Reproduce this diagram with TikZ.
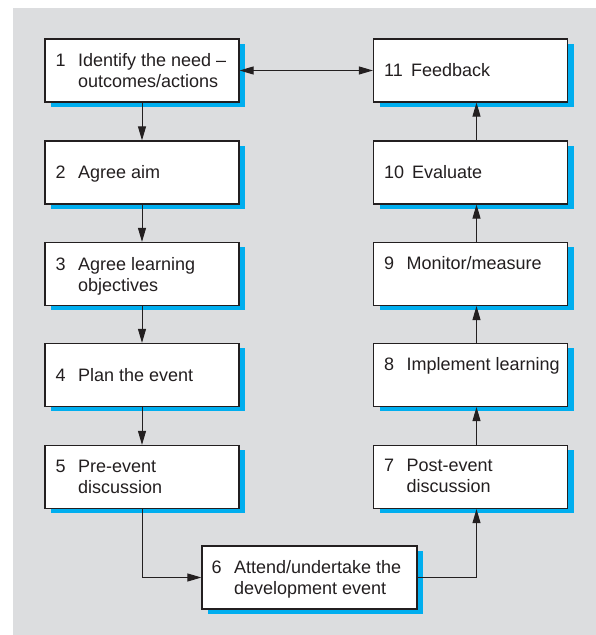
\documentclass[tikz,border=0pt]{standalone}
\usepackage{fontspec}
\setmainfont{Liberation Sans}
\usetikzlibrary{arrows.meta,shadows}

\definecolor{panel}{RGB}{220,221,223}
\definecolor{shade}{RGB}{0,174,239}
\definecolor{ink}{RGB}{35,31,32}

% number in a fixed-width column, wording beside it with a hanging indent
\newcommand\steptext[3]{\begin{tabular}[t]{@{}p{#1}@{}l@{}}#2&#3\end{tabular}}

\begin{document}
\begin{tikzpicture}[x=1pt,y=1pt,
  stepbox/.style={rectangle, draw=ink, line width=1.2pt, fill=white,
    minimum width=194pt, minimum height=63pt, inner sep=0pt,
    drop shadow={shadow xshift=6pt, shadow yshift=-5pt, fill=shade, opacity=1}},
  widebox/.style={stepbox, minimum width=215pt},
  steplabel/.style={anchor=base west, inner sep=0pt, text=ink,
    font=\fontsize{18}{21}\selectfont},
  tip/.tip={Triangle[length=14pt,width=8pt]},
  flow/.style={draw=ink, line width=1pt, -tip},
]
\useasboundingbox (0,0) rectangle (596,635);
\fill[panel] (13,0) rectangle (596,627);

% left column: steps 1 to 5
\node[stepbox] (b1) at (142,564.5) {};
\node[stepbox] (b2) at (142,462.5) {};
\node[stepbox] (b3) at (142,361) {};
\node[stepbox] (b4) at (142,260) {};
\node[stepbox] (b5) at (142,158) {};
% the event itself
\node[widebox] (b6) at (309.5,57.5) {};
% right column: steps 7 to 11
\node[stepbox] (b7) at (470.5,158) {};
\node[stepbox] (b8) at (470.5,260) {};
\node[stepbox] (b9) at (470.5,361) {};
\node[stepbox] (b10) at (470.5,462.5) {};
\node[stepbox] (b11) at (470.5,564.5) {};

% wording
\node[steplabel] (t1) at ([xshift=11pt,yshift=3.5pt]b1.west)
  {\steptext{22.5pt}{1}{Identify the need –\\&outcomes/actions}};
\node[steplabel] (t2) at ([xshift=11pt,yshift=-6.5pt]b2.west)
  {\steptext{22.5pt}{2}{Agree aim}};
\node[steplabel] (t3) at ([xshift=11pt,yshift=3.5pt]b3.west)
  {\steptext{22.5pt}{3}{Agree learning\\&objectives}};
\node[steplabel] (t4) at ([xshift=11pt,yshift=-6.5pt]b4.west)
  {\steptext{22.5pt}{4}{Plan the event}};
\node[steplabel] (t5) at ([xshift=11pt,yshift=4.5pt]b5.west)
  {\steptext{22.5pt}{5}{Pre-event\\&discussion}};
\node[steplabel] (t6) at ([xshift=10pt,yshift=4pt]b6.west)
  {\steptext{22.5pt}{6}{Attend/undertake the\\&development event}};
\node[steplabel] (t7) at ([xshift=11pt,yshift=5pt]b7.west)
  {\steptext{22.5pt}{7}{Post-event\\&discussion}};
\node[steplabel] (t8) at ([xshift=11pt,yshift=4pt]b8.west)
  {\steptext{22.5pt}{8}{Implement learning}};
\node[steplabel] (t9) at ([xshift=11pt,yshift=4.5pt]b9.west)
  {\steptext{22.5pt}{9}{Monitor/measure}};
\node[steplabel] (t10) at ([xshift=11pt,yshift=-6pt]b10.west)
  {\steptext{28pt}{10}{Evaluate}};
\node[steplabel] (t11) at ([xshift=11pt,yshift=-6pt]b11.west)
  {\steptext{27pt}{11}{Feedback}};

% connectors
\draw[flow] (b1.south) -- (b2.north);
\draw[flow] (b2.south) -- (b3.north);
\draw[flow] (b3.south) -- (b4.north);
\draw[flow] (b4.south) -- (b5.north);
\draw[flow] (b5.south) |- (b6.west);
\draw[flow] (b6.east) -| ([xshift=6pt]b7.south);
\draw[flow] ([xshift=6pt]b7.north) -- ([xshift=6pt]b8.south);
\draw[flow] ([xshift=6pt]b8.north) -- ([xshift=6pt]b9.south);
\draw[flow] ([xshift=6pt]b9.north) -- ([xshift=6pt]b10.south);
\draw[flow] ([xshift=6pt]b10.north) -- ([xshift=6pt]b11.south);
\draw[flow, tip-tip] (b1.east) -- (b11.west);
\end{tikzpicture}
\end{document}
